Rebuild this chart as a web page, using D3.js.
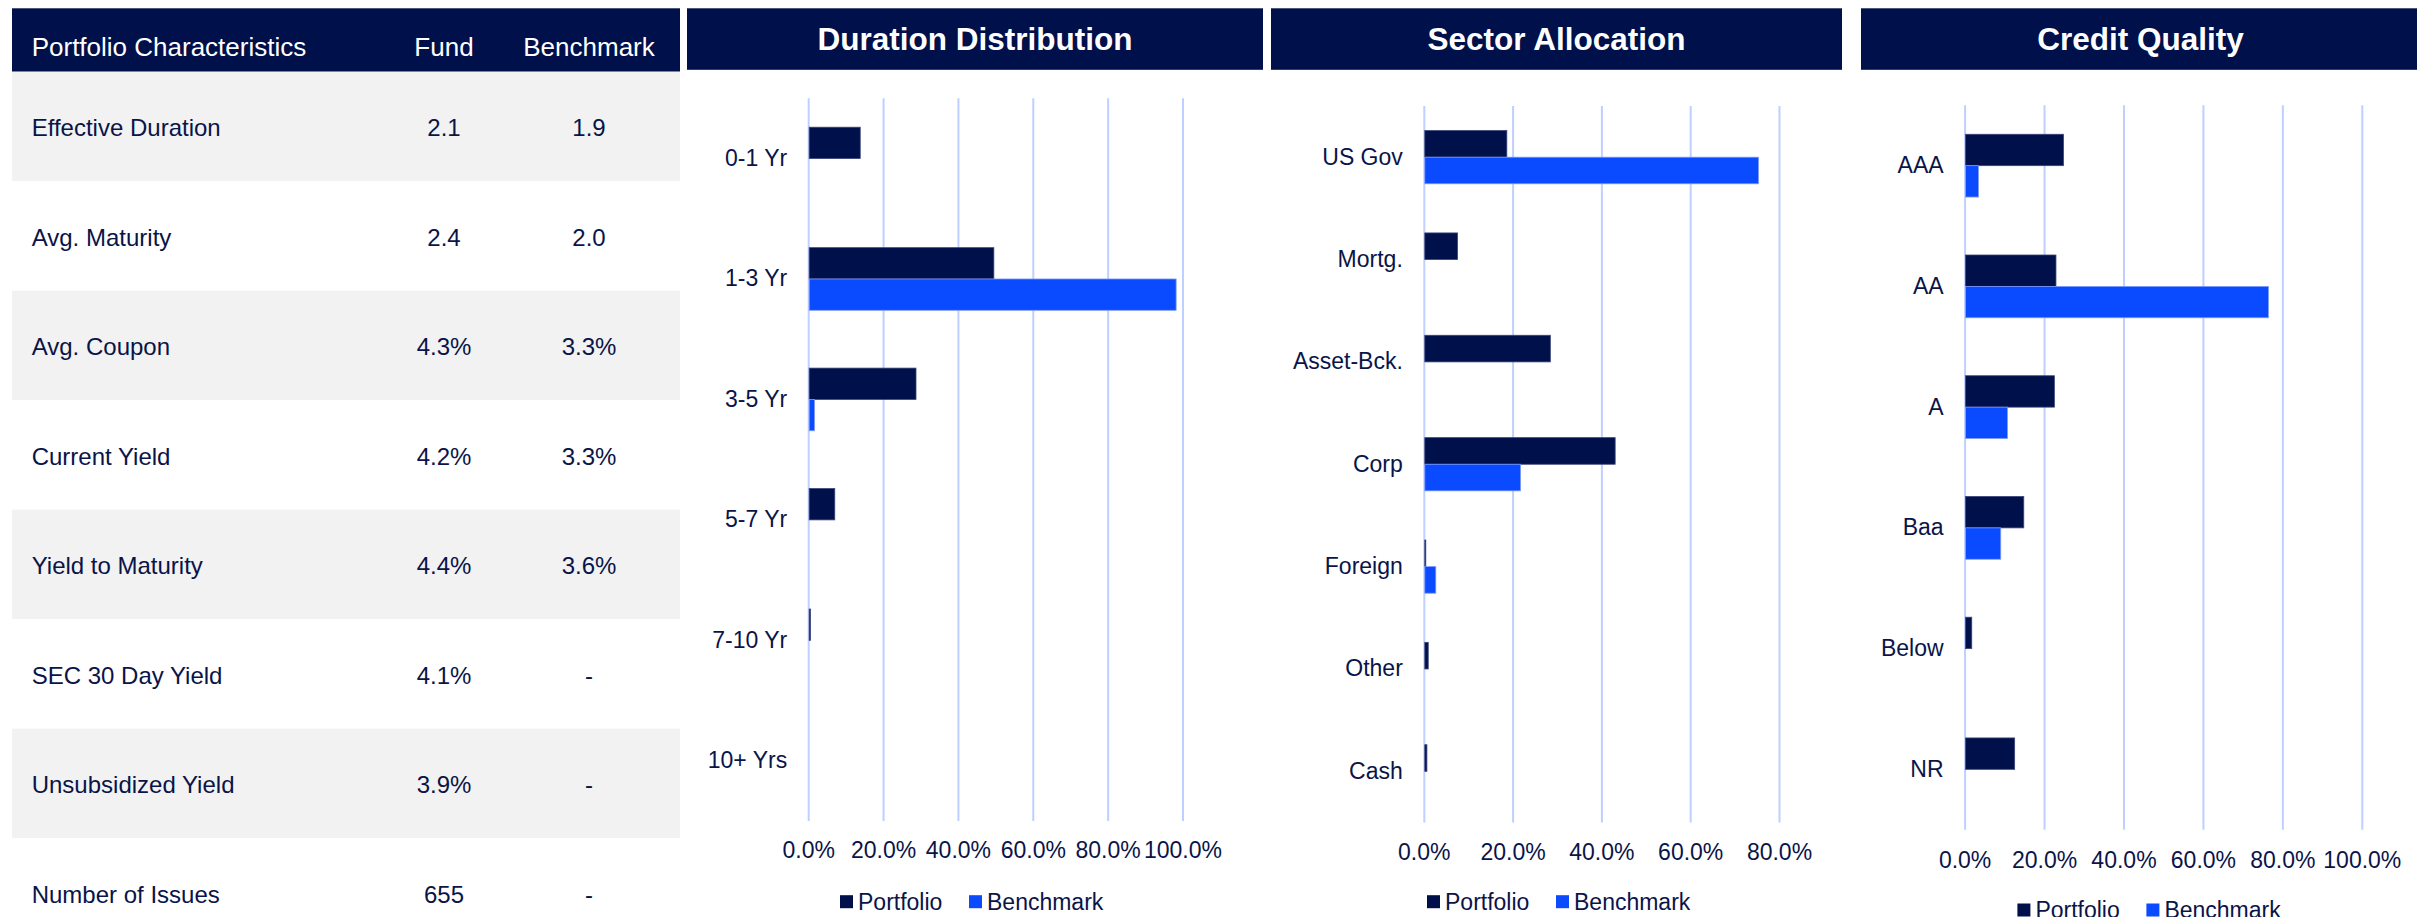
<!DOCTYPE html>
<html>
<head>
<meta charset="utf-8">
<script src="https://cdn.jsdelivr.net/npm/d3@7"></script>
<style>
  body { margin: 0; background: #fff; }
  text { font-family: "Liberation Sans", Arial, sans-serif; }
</style>
</head>
<body>
<div id="container"></div>
<script>
/* 1. DATA */
const tableHead = ["Portfolio Characteristics", "Fund", "Benchmark"];
const tableRows = ["Effective Duration", "Avg. Maturity", "Avg. Coupon", "Current Yield",
                   "Yield to Maturity", "SEC 30 Day Yield", "Unsubsidized Yield", "Number of Issues"];
const fundValues  = ["2.1", "2.4", "4.3%", "4.2%", "4.4%", "4.1%", "3.9%", "655"];
const benchValues = ["1.9", "2.0", "3.3%", "3.3%", "3.6%", "-", "-", "-"];

const seriesNames = ["Portfolio", "Benchmark"];

const durationCats      = ["0-1 Yr", "1-3 Yr", "3-5 Yr", "5-7 Yr", "7-10 Yr", "10+ Yrs"];
const durationPortfolio = [0.139, 0.496, 0.288, 0.071, 0.006, 0];
const durationBenchmark = [0, 0.983, 0.017, 0, 0, 0];
const durationTicks     = [0, 0.2, 0.4, 0.6, 0.8, 1.0];

const sectorCats      = ["US Gov", "Mortg.", "Asset-Bck.", "Corp", "Foreign", "Other", "Cash"];
const sectorPortfolio = [0.187, 0.076, 0.285, 0.431, 0.003, 0.010, 0.007];
const sectorBenchmark = [0.754, 0, 0, 0.218, 0.027, 0, 0];
const sectorTicks     = [0, 0.2, 0.4, 0.6, 0.8];

const creditCats      = ["AAA", "AA", "A", "Baa", "Below", "NR"];
const creditPortfolio = [0.249, 0.230, 0.226, 0.149, 0.018, 0.126];
const creditBenchmark = [0.035, 0.765, 0.108, 0.091, 0, 0];
const creditTicks     = [0, 0.2, 0.4, 0.6, 0.8, 1.0];

/* 2. CONSTANTS */
const width = 2417, height = 917;
const navy = "#00104a", blue = "#0b4bff", gridCol = "#bfcfff", textCol = "#0a1448";
const colorScale = d3.scaleOrdinal().domain(seriesNames).range([navy, blue]);
const strokeScale = d3.scaleOrdinal().domain(seriesNames).range(["#3a4478", "#7f9bff"]);

const svg = d3.select("#container")
              .append("svg")
              .attr("width", width)
              .attr("height", height);

/* 3. TABLE */
const table = {x0: 12, x1: 680, headTop: 8.3, headBottom: 71.7, rowH: 109.5,
               labelX: 31.7, fundX: 444, benchX: 589};

svg.append("rect")
   .attr("x", table.x0).attr("y", table.headTop)
   .attr("width", table.x1 - table.x0).attr("height", table.headBottom - table.headTop)
   .attr("fill", navy);

const headX = [table.labelX, table.fundX, table.benchX];
svg.selectAll("text.head")
   .data(tableHead)
   .join("text")
   .attr("class", "head")
   .attr("x", (d, i) => headX[i])
   .attr("y", 56)
   .attr("text-anchor", (d, i) => i == 0 ? "start" : "middle")
   .attr("font-size", "26px")
   .attr("fill", "#fff")
   .text(d => d);

const rowScale = d3.scaleBand()
                   .domain(tableRows)
                   .range([table.headBottom, table.headBottom + table.rowH * tableRows.length]);

const rows = svg.selectAll("g.row")
                .data(tableRows)
                .join("g")
                .attr("class", "row")
                .attr("transform", d => `translate(0,${rowScale(d)})`);

rows.append("rect")
    .attr("x", table.x0)
    .attr("width", table.x1 - table.x0)
    .attr("height", rowScale.bandwidth())
    .attr("fill", (d, i) => i % 2 == 0 ? "#f2f2f2" : "#fff");

rows.append("text")
    .attr("x", table.labelX)
    .attr("y", table.rowH / 2 + 10)
    .attr("font-size", "24px")
    .attr("fill", textCol)
    .text(d => d);

rows.append("text")
    .attr("x", table.fundX)
    .attr("y", table.rowH / 2 + 10)
    .attr("text-anchor", "middle")
    .attr("font-size", "24px")
    .attr("fill", textCol)
    .text((d, i) => fundValues[i]);

rows.append("text")
    .attr("x", table.benchX)
    .attr("y", table.rowH / 2 + 10)
    .attr("text-anchor", "middle")
    .attr("font-size", "24px")
    .attr("fill", textCol)
    .text((d, i) => benchValues[i]);

/* 4. BAR CHARTS */
function drawPanel(opt) {
  // header bar
  svg.append("rect")
     .attr("x", opt.head[0]).attr("y", 8.3)
     .attr("width", opt.head[1] - opt.head[0]).attr("height", 61.5)
     .attr("fill", navy);
  svg.append("text")
     .attr("x", (opt.head[0] + opt.head[1]) / 2)
     .attr("y", 50)
     .attr("text-anchor", "middle")
     .attr("font-size", "31.5px")
     .attr("font-weight", "bold")
     .attr("fill", "#fff")
     .text(opt.title);

  const xScale = d3.scaleLinear()
                   .domain([0, opt.max])
                   .range(opt.xr);
  const yScale = d3.scaleBand()
                   .domain(opt.cats)
                   .range(opt.yr)
                   .paddingInner(0.48)
                   .paddingOuter(0.24);
  const subScale = d3.scaleBand()
                     .domain(seriesNames)
                     .range([0, yScale.bandwidth()]);

  // gridlines + tick labels
  const xAxis = d3.axisBottom(xScale)
                  .tickValues(opt.ticks)
                  .tickFormat(d3.format(".1%"))
                  .tickSize(-(opt.yr[1] - opt.yr[0]))
                  .tickPadding(opt.tickPad);
  const gx = svg.append("g")
                .attr("transform", `translate(0,${opt.yr[1]})`)
                .call(xAxis);
  gx.select(".domain").remove();
  gx.selectAll("line").attr("stroke", gridCol).attr("stroke-width", 2);
  gx.selectAll("text")
    .attr("font-size", "23px")
    .attr("font-family", "Liberation Sans, Arial, sans-serif")
    .attr("fill", textCol);

  // category labels
  const yAxis = d3.axisLeft(yScale).tickSize(0).tickPadding(21);
  const gy = svg.append("g")
                .attr("transform", `translate(${opt.xr[0]},0)`)
                .call(yAxis);
  gy.select(".domain").remove();
  gy.selectAll("text")
    .attr("font-size", "23px")
    .attr("font-family", "Liberation Sans, Arial, sans-serif")
    .attr("fill", textCol);

  // bars
  const rowsData = opt.cats.map((c, i) => ({cat: c, Portfolio: opt.port[i], Benchmark: opt.bench[i]}));
  const groups = svg.append("g")
                    .selectAll("g")
                    .data(rowsData)
                    .join("g")
                    .attr("transform", d => `translate(0,${yScale(d.cat)})`);
  groups.selectAll("rect")
        .data(d => seriesNames.map(s => ({key: s, value: d[s]})).filter(e => e.value > 0))
        .join("rect")
        .attr("x", xScale(0) + 1)
        .attr("y", d => subScale(d.key))
        .attr("width", d => Math.max(1, xScale(d.value) - xScale(0) - 1))
        .attr("height", subScale.bandwidth())
        .attr("fill", d => colorScale(d.key))
        .attr("stroke", d => strokeScale(d.key))
        .attr("stroke-width", 0.8);

  // legend
  const leg = svg.append("g")
                 .selectAll("g")
                 .data(seriesNames)
                 .join("g")
                 .attr("transform", (d, i) => `translate(${opt.legX + i * 129},${opt.legY})`);
  leg.append("rect")
     .attr("x", 0).attr("y", -6.5)
     .attr("width", 13).attr("height", 13)
     .attr("fill", d => colorScale(d));
  leg.append("text")
     .attr("x", 18)
     .attr("y", 8.3)
     .attr("font-size", "23px")
     .attr("fill", textCol)
     .text(d => d);
}

drawPanel({title: "Duration Distribution", head: [687, 1263],
           cats: durationCats, port: durationPortfolio, bench: durationBenchmark,
           ticks: durationTicks, max: 1.0, xr: [808.2, 1182.5], yr: [98.3, 821],
           tickPad: 21, legX: 840, legY: 901.7});

drawPanel({title: "Sector Allocation", head: [1271, 1842],
           cats: sectorCats, port: sectorPortfolio, bench: sectorBenchmark,
           ticks: sectorTicks, max: 0.8, xr: [1423.8, 1779], yr: [106, 822.5],
           tickPad: 21, legX: 1427, legY: 901.7});

drawPanel({title: "Credit Quality", head: [1861, 2420],
           cats: creditCats, port: creditPortfolio, bench: creditBenchmark,
           ticks: creditTicks, max: 1.0, xr: [1964.6, 2361.8], yr: [105.3, 829.7],
           tickPad: 22, legX: 2017.4, legY: 910});
</script>
</body>
</html>
